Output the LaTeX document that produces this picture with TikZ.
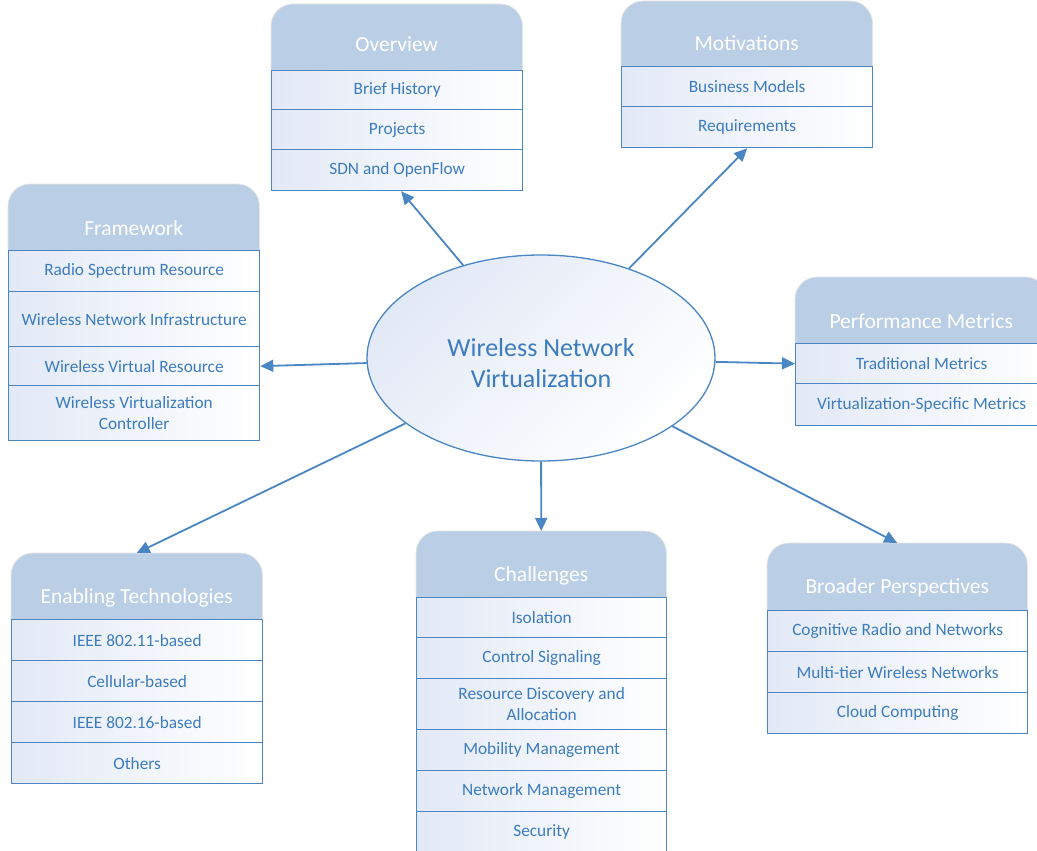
\documentclass[tikz,border=0pt]{standalone}
\usepackage{fontspec}
\setmainfont{Carlito}
\usetikzlibrary{shapes.geometric,arrows.meta}

\definecolor{linec}{HTML}{4A86C4}
\definecolor{textc}{HTML}{3D7CBF}
\definecolor{hdrc}{HTML}{BACEE6}
\definecolor{rowc}{HTML}{E2E9F6}

\tikzset{
  item/.style={draw=linec, line width=1.3pt, left color=rowc, right color=white,
    inner sep=2pt, anchor=north west, text=textc, align=center,
    font=\fontsize{17.3}{21}\selectfont},
  hdrbox/.style={inner sep=0, anchor=north west},
  hdrtext/.style={text=white, font=\fontsize{21.5}{24}\selectfont},
  hdrfill/.style={fill=hdrc, draw=black!10, line width=0.8pt},
  arr/.style={draw=linec, line width=1.8pt, -{Triangle[length=13pt,width=12pt]}},
}
% header with rounded top corners, drawn behind its title
\newcommand\panelhead[3][-10pt]{%
  \fill[hdrfill] (#2.south west) [rounded corners=22pt] -- (#2.north west)
    -- (#2.north east) [sharp corners] -- (#2.south east) -- cycle;
  \node[hdrtext] (#2t) at ([yshift=#1]#2.center) {#3};}

\begin{document}
\begin{tikzpicture}[x=1pt,y=-1pt]
\useasboundingbox (0,0) rectangle (1037,851);
\clip (0,0) rectangle (1037,851);

% central topic
\node[ellipse, draw=linec, line width=1.3pt, left color=rowc, right color=white,
  shading angle=45, minimum width=348pt, minimum height=206pt, text=textc,
  align=center, font=\fontsize{26}{31}\selectfont] (wnv) at (541,358) {};
\node[text=textc, align=center, font=\fontsize{26}{31}\selectfont] (wnvt)
  at ([yshift=-5pt]wnv.center) {Wireless Network\\Virtualization};

% Overview
\node[hdrbox, minimum width=251pt, minimum height=66pt] (ovh) at (271,4) {};
\panelhead[-7pt]{ovh}{Overview}
\node[item, minimum width=251pt, minimum height=39pt] (ov1) at (271,70) {Brief History};
\node[item, minimum width=251pt, minimum height=40pt] (ov2) at (271,109) {Projects};
\node[item, minimum width=251pt, minimum height=41pt] (ov3) at (271,149) {SDN and OpenFlow};

% Motivations
\node[hdrbox, minimum width=251pt, minimum height=65pt] (moh) at (621,1) {};
\panelhead[-9pt]{moh}{Motivations}
\node[item, minimum width=251pt, minimum height=40pt] (mo1) at (621,66) {Business Models};
\node[item, minimum width=251pt, minimum height=41pt] (mo2) at (621,106) {Requirements};

% Framework
\node[hdrbox, minimum width=251pt, minimum height=66pt] (fwh) at (8,184) {};
\panelhead[-11pt]{fwh}{Framework}
\node[item, minimum width=251pt, minimum height=41pt] (fw1) at (8,250) {Radio Spectrum Resource};
\node[item, minimum width=251pt, minimum height=55pt] (fw2) at (8,291) {Wireless Network Infrastructure};
\node[item, minimum width=251pt, minimum height=39pt] (fw3) at (8,346) {Wireless Virtual Resource};
\node[item, minimum width=251pt, minimum height=55pt] (fw4) at (8,385) {Wireless Virtualization\\Controller};

% Performance Metrics
\node[hdrbox, minimum width=252pt, minimum height=66pt] (pmh) at (795,277) {};
\panelhead[-11pt]{pmh}{Performance Metrics}
\node[item, minimum width=252pt, minimum height=40pt] (pm1) at (795,343) {Traditional Metrics};
\node[item, minimum width=252pt, minimum height=42pt] (pm2) at (795,383) {Virtualization-Specific Metrics};

% Enabling Technologies
\node[hdrbox, minimum width=251pt, minimum height=66pt] (eth) at (11,553) {};
\panelhead[-12pt]{eth}{Enabling Technologies}
\node[item, minimum width=251pt, minimum height=41pt] (et1) at (11,619) {IEEE 802.11-based};
\node[item, minimum width=251pt, minimum height=41pt] (et2) at (11,660) {Cellular-based};
\node[item, minimum width=251pt, minimum height=41pt] (et3) at (11,701) {IEEE 802.16-based};
\node[item, minimum width=251pt, minimum height=41pt] (et4) at (11,742) {Others};

% Challenges
\node[hdrbox, minimum width=250pt, minimum height=66pt] (chh) at (416,531) {};
\panelhead[-12pt]{chh}{Challenges}
\node[item, minimum width=250pt, minimum height=40pt] (ch1) at (416,597) {Isolation};
\node[item, minimum width=250pt, minimum height=41pt] (ch2) at (416,637) {Control Signaling};
\node[item, minimum width=250pt, minimum height=51pt] (ch3) at (416,678) {Resource Discovery and\\Allocation};
\node[item, minimum width=250pt, minimum height=41pt] (ch4) at (416,729) {Mobility Management};
\node[item, minimum width=250pt, minimum height=41pt] (ch5) at (416,770) {Network Management};
\node[item, minimum width=250pt, minimum height=41pt] (ch6) at (416,811) {Security};

% Broader Perspectives
\node[hdrbox, minimum width=260pt, minimum height=67pt] (bph) at (767,543) {};
\panelhead[-11pt]{bph}{Broader Perspectives}
\node[item, minimum width=260pt, minimum height=41pt] (bp1) at (767,610) {Cognitive Radio and Networks};
\node[item, minimum width=260pt, minimum height=41pt] (bp2) at (767,651) {Multi-tier Wireless Networks};
\node[item, minimum width=260pt, minimum height=41pt] (bp3) at (767,692) {Cloud Computing};

% connectors from the central topic
\draw[arr] (wnv) -- ([xshift=4pt]ov3.south);
\draw[arr] (wnv) -- (mo2.south);
\draw[arr] (wnv) -- (fw3.east);
\draw[arr] (wnv) -- (pm1.west);
\draw[arr] (wnv) -- (eth.north);
\draw[arr] (wnv) -- (chh.north);
\draw[arr] (wnv) -- (bph.north);
\end{tikzpicture}
\end{document}
